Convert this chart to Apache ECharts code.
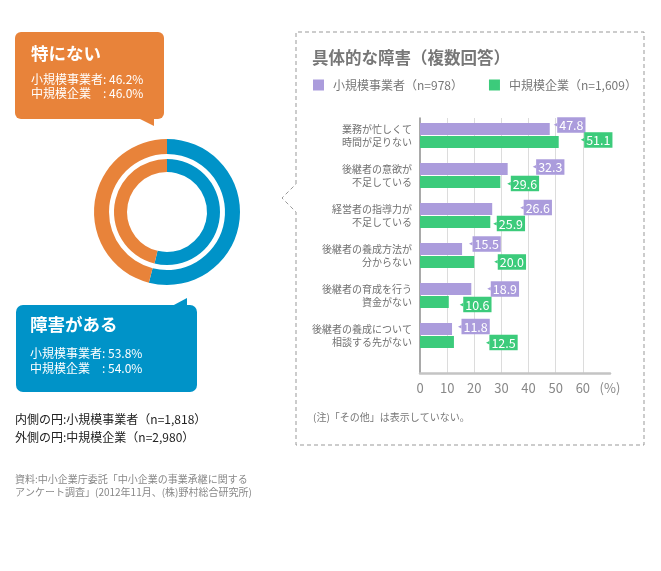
<!DOCTYPE html>
<html>
  <head>
    <meta charset="UTF-8">
    <title>具体的な障害（複数回答）</title>
    <style type="text/css">
      body {
        margin: 0;
        padding: 0;
        background-color: white;
      }
      #main {
        width: 661px;
        height: 571px;
      }
    </style>
  </head>
  <body>
    <div id="main"></div>
    <script src="https://cdn.jsdelivr.net/npm/echarts@6.0.0/dist/echarts.min.js" type="text/javascript"></script>
    <script type="text/javascript">
      // 具体的な障害（複数回答）
      var categories = [
        '業務が忙しくて\n時間が足りない',
        '後継者の意欲が\n不足している',
        '経営者の指導力が\n不足している',
        '後継者の養成方法が\n分からない',
        '後継者の育成を行う\n資金がない',
        '後継者の養成について\n相談する先がない'
      ];
      var smallName = '小規模事業者（n=978）';
      var midName = '中規模企業（n=1,609）';
      var smallValues = [47.8, 32.3, 26.6, 15.5, 18.9, 11.8];
      var midValues = [51.1, 29.6, 25.9, 20.0, 10.6, 12.5];
      var xTicks = [0, 10, 20, 30, 40, 50, 60];

      // 障害の有無（円）
      var ringNames = ['障害がある', '特にない'];
      var innerValues = [53.8, 46.2];  // 小規模事業者 n=1,818
      var outerValues = [54.0, 46.0];  // 中規模企業 n=2,980

      // ラベル位置の微調整（見た目だけ）
      var smallShift = [[4, -4], [25, -2], [28, -1.5], [7, -5], [16, 0], [6, -2.5]];
      var midShift = [[22, -2], [7, 1.5], [3, 1.5], [20, 0], [11, 2.5], [32, 0.5]];

      var PURPLE = '#ab9cdc';
      var GREEN = '#3ccb7b';
      var ORANGE = '#e8833a';
      var BLUE = '#0093c8';
      var FONT = '"Noto Sans CJK JP", "Noto Sans", sans-serif';

      function barData(values, shift) {
        return values.map(function (v, i) {
          return { value: v, label: { offset: shift[i] } };
        });
      }

      function barLabel(color) {
        return {
          show: true,
          position: 'right',
          distance: 0,
          formatter: function (p) {
            return '{a|◀}{b|' + p.value.toFixed(1) + '}';
          },
          rich: {
            a: { color: color, fontSize: 4.5, fontFamily: '"DejaVu Sans"' },
            b: {
              color: '#fff', backgroundColor: color, fontSize: 12.5, lineHeight: 13,
              padding: [2, 2, 1, 2], fontFamily: FONT
            }
          }
        };
      }

      var chart = echarts.init(document.getElementById('main'));
      var option = {
        backgroundColor: '#fff',
        animation: false,
        textStyle: { fontFamily: FONT },
        title: {
          text: '具体的な障害（複数回答）',
          left: 312, top: 49, padding: 0,
          textStyle: { fontSize: 16.5, fontWeight: 'bold', color: '#777', fontFamily: FONT }
        },
        legend: {
          left: 313, top: 79, padding: 0,
          icon: 'rect', itemWidth: 11, itemHeight: 11, itemGap: 26,
          data: [smallName, midName],
          textStyle: { fontSize: 12, color: '#777', padding: [0, 0, 0, 4], fontFamily: FONT }
        },
        grid: [
          { left: 420, right: 51, top: 115.5, height: 240 },
          { left: 420, right: 51, top: 118, bottom: 198 }
        ],
        xAxis: [
          { gridIndex: 0, type: 'value', min: 0, max: 70, show: false },
          {
            gridIndex: 1, type: 'value', min: 0, max: 70, interval: 10,
            axisLine: { show: true, lineStyle: { color: '#c4c4c4', width: 2.5 } },
            axisTick: { show: false },
            axisLabel: {
              color: '#888', fontSize: 13, margin: 9, fontFamily: FONT,
              formatter: function (v) { return xTicks.indexOf(v) >= 0 ? String(v) : '(%)'; }
            },
            splitLine: {
              show: true, showMinLine: false, showMaxLine: false,
              lineStyle: { color: '#dcdcdc', width: 1 }
            }
          }
        ],
        yAxis: [
          {
            gridIndex: 0, type: 'category', inverse: true, data: categories,
            axisLine: { show: false }, axisTick: { show: false },
            axisLabel: {
              color: '#707070', fontSize: 10, lineHeight: 13, margin: 8, align: 'right',
              fontFamily: FONT
            }
          },
          {
            gridIndex: 1, type: 'value', min: 0, max: 1,
            axisLine: { show: true, lineStyle: { color: '#8c8c8c', width: 1.5 } },
            axisTick: { show: false }, axisLabel: { show: false }, splitLine: { show: false }
          }
        ],
        series: [
          {
            name: smallName, type: 'bar', xAxisIndex: 0, yAxisIndex: 0,
            barWidth: 12, barGap: '8%', itemStyle: { color: PURPLE },
            data: barData(smallValues, smallShift), label: barLabel(PURPLE)
          },
          {
            name: midName, type: 'bar', xAxisIndex: 0, yAxisIndex: 0,
            barWidth: 12, barGap: '8%', itemStyle: { color: GREEN },
            data: barData(midValues, midShift), label: barLabel(GREEN)
          },
          {
            name: '中規模企業', type: 'pie', center: [167, 212], radius: [58, 73],
            startAngle: 90, clockwise: true, silent: true,
            label: { show: false }, labelLine: { show: false },
            color: [BLUE, ORANGE],
            data: ringNames.map(function (n, i) { return { name: n, value: outerValues[i] }; })
          },
          {
            name: '小規模事業者', type: 'pie', center: [167, 212], radius: [40, 53],
            startAngle: 90, clockwise: true, silent: true,
            label: { show: false }, labelLine: { show: false },
            color: [BLUE, ORANGE],
            data: ringNames.map(function (n, i) { return { name: n, value: innerValues[i] }; })
          }
        ],
        graphic: [
          // 点線の枠（左に吹き出しの角）
          {
            type: 'polyline', silent: true,
            shape: { points: [[296, 184], [296, 32], [644, 32], [644, 445], [296, 445], [296, 212], [282, 198], [296, 184]] },
            style: { stroke: '#999', lineWidth: 1, lineDash: [4, 3], fill: null }
          },
          // 特にない
          { type: 'rect', shape: { x: 15, y: 32, width: 149, height: 87, r: 6 }, style: { fill: ORANGE } },
          { type: 'polygon', shape: { points: [[138, 118], [154, 118], [154, 126]] }, style: { fill: ORANGE } },
          { type: 'text', left: 31, top: 45, style: { text: '特にない', fill: '#fff', font: 'bold 17.5px ' + FONT } },
          {
            type: 'text', left: 31, top: 73,
            style: { text: '小規模事業者: 46.2%\n中規模企業　: 46.0%', fill: '#fff', font: '12px ' + FONT, lineHeight: 13.5 }
          },
          // 障害がある
          { type: 'rect', shape: { x: 16, y: 305, width: 181, height: 87, r: 7 }, style: { fill: BLUE } },
          { type: 'polygon', shape: { points: [[172, 306], [187, 306], [187, 298]] }, style: { fill: BLUE } },
          { type: 'text', left: 30, top: 316, style: { text: '障害がある', fill: '#fff', font: 'bold 17.5px ' + FONT } },
          {
            type: 'text', left: 30, top: 346,
            style: { text: '小規模事業者: 53.8%\n中規模企業　: 54.0%', fill: '#fff', font: '12px ' + FONT, lineHeight: 15 }
          },
          // 凡例（円）
          {
            type: 'text', left: 15, top: 411,
            style: { text: '内側の円:小規模事業者（n=1,818）\n外側の円:中規模企業（n=2,980）', fill: '#222', font: '12px ' + FONT, lineHeight: 17.5 }
          },
          {
            type: 'text', left: 15, top: 473,
            style: { text: '資料:中小企業庁委託「中小企業の事業承継に関する\nアンケート調査」(2012年11月、(株)野村総合研究所)', fill: '#888', font: '10px ' + FONT, lineHeight: 12.5 }
          },
          {
            type: 'text', left: 313, top: 412,
            style: { text: '(注)「その他」は表示していない。', fill: '#777', font: '10px ' + FONT }
          }
        ]
      };
      chart.setOption(option);
    </script>
  </body>
</html>
